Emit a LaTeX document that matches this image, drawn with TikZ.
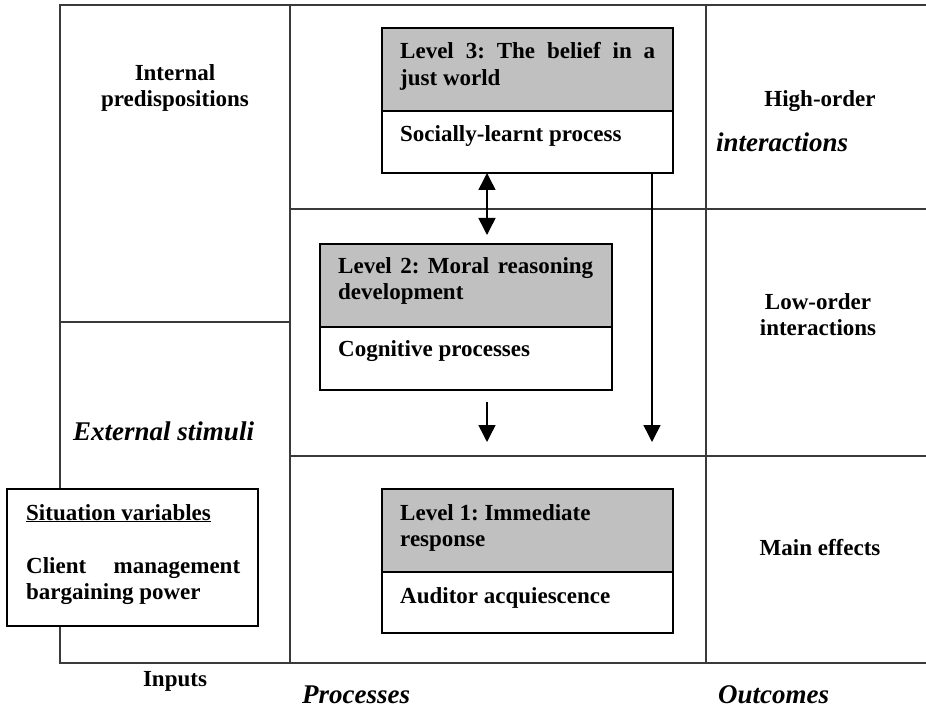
\documentclass[tikz,border=0pt]{standalone}
\usepackage{fontspec}
\setmainfont{Liberation Serif}
\usetikzlibrary{arrows.meta}
\definecolor{hdr}{HTML}{C0C0C0}
\definecolor{gridc}{HTML}{3A3A3A}
\frenchspacing
\begin{document}
\begin{tikzpicture}[x=1pt,y=-1pt,
 gridline/.style={draw=gridc,line width=1.1pt},
 hbox/.style={draw=black,line width=1.5pt,fill=hdr,anchor=north west,inner sep=0pt,outer sep=0pt},
 bbox/.style={draw=black,line width=1.5pt,fill=white,anchor=north west,inner sep=0pt,outer sep=0pt},
 txt/.style={anchor=base west,inner sep=0pt,font=\fontsize{23}{27}\selectfont\bfseries},
 ctxt/.style={anchor=base,inner sep=0pt,font=\fontsize{23}{27}\selectfont\bfseries},
 itxt/.style={anchor=base west,inner sep=0pt,font=\fontsize{27}{32}\selectfont\bfseries\itshape},
 arr/.style={line width=1.5pt,-{Triangle[width=17pt,length=17pt]}},
 darr/.style={line width=1.5pt,{Triangle[width=17pt,length=17pt]}-{Triangle[width=17pt,length=17pt]}}]
\useasboundingbox (0,0) rectangle (926,708);
\fill[white] (0,0) rectangle (926,708);
% grid
\draw[gridline] (926,5) -- (60,5) -- (60,663) -- (926,663);
\draw[gridline] (290,5) -- (290,663);
\draw[gridline] (706,5) -- (706,663);
\draw[gridline] (60,322) -- (290,322);
\draw[gridline] (290,209) -- (926,209);
\draw[gridline] (290,456) -- (926,456);
% level boxes
\node[hbox,minimum width=291pt,minimum height=83pt] (l3h) at (382,28) {};
\node[bbox,minimum width=291pt,minimum height=62pt] (l3b) at (382,111) {};
\node[hbox,minimum width=292pt,minimum height=83pt] (l2h) at (320,244) {};
\node[bbox,minimum width=292pt,minimum height=63pt] (l2b) at (320,327) {};
\node[hbox,minimum width=291pt,minimum height=83pt] (l1h) at (382,489) {};
\node[bbox,minimum width=291pt,minimum height=61pt] (l1b) at (382,572) {};
\node[bbox,minimum width=251pt,minimum height=137pt] (sit) at (7,489) {};
% arrows
\coordinate (a1) at (487,235);
\coordinate (a2s) at (487,402);
\coordinate (a2e) at (487,442);
\coordinate (a3) at (652,442);
\draw[darr] (a1 |- l3b.south) -- (a1);
\draw[arr] (a2s) -- (a2e);
\draw[arr] (a3 |- l3b.south) -- (a3);
% box texts
\node[txt] (t3a) at (400,59) {\makebox[255pt][s]{Level 3: The belief in a}};
\node[txt] (t3b) at (400,86) {just world};
\node[txt] (t3c) at (400,142) {Socially-learnt process};
\node[txt] (t2a) at (338,274) {\makebox[255pt][s]{Level 2: Moral reasoning}};
\node[txt] (t2b) at (338,300) {development};
\node[txt] (t2c) at (338,357) {Cognitive processes};
\node[txt] (t1a) at (400,520) {Level 1: Immediate};
\node[txt] (t1b) at (400,546) {response};
\node[txt] (t1c) at (400,603) {Auditor acquiescence};
\node[txt] (s1) at (26,520) {\underline{Situation variables}};
\node[txt] (s2) at (26,573) {\makebox[214pt][s]{Client management}};
\node[txt] (s3) at (26,599) {bargaining power};
% column / row labels
\node[ctxt] (ip1) at (175,81) {Internal};
\node[ctxt] (ip2) at (175,107) {predispositions};
\node[itxt] (ext) at (73,440) {External stimuli};
\node[ctxt] (ho1) at (820,107) {High-order};
\node[itxt] (ho2) at (716,152) {interactions};
\node[ctxt] (lo1) at (818,310) {Low-order};
\node[ctxt] (lo2) at (818,336) {interactions};
\node[ctxt] (me) at (820,555) {Main effects};
\node[ctxt] (inp) at (175,686) {Inputs};
\node[itxt] (proc) at (302,703) {Processes};
\node[itxt] (outc) at (718,703) {Outcomes};
\end{tikzpicture}
\end{document}
